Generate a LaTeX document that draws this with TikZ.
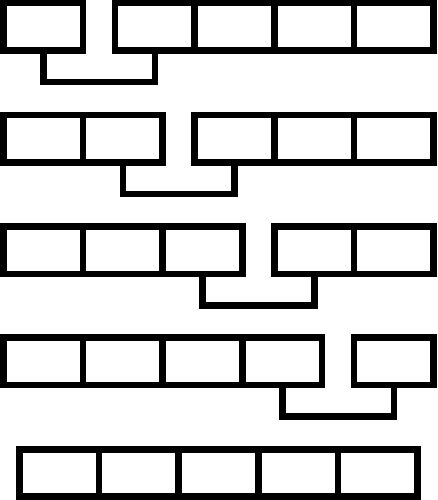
\documentclass[tikz,border=0pt]{standalone}
\begin{document}
\begin{tikzpicture}[x=1pt,y=1pt,
  cell/.style={draw=black, line width=6.7pt, minimum width=79.7pt, minimum height=47.4pt, inner sep=0pt, outer sep=0pt, anchor=north west},
  link/.style={draw=black, line width=6.7pt, line join=miter}]
\useasboundingbox (0,0) rectangle (437,500);
\foreach \r/\top in {1/3,2/115,3/226.7,4/337.7}{
  \foreach \k in {1,...,5}{
    \pgfmathsetmacro\xl{3.3+(\k-1)*79.7+(\k>\r ? 32 : 0)}
    \pgfmathsetmacro\yt{500-\top}
    \node[cell] (c-\r-\k) at (\xl,\yt) {};
  }
}
\foreach \k in {1,...,5}{
  \pgfmathsetmacro\xl{19.3+(\k-1)*79.7}
  \node[cell] (c-5-\k) at (\xl,50.7) {};
}
\foreach \r in {1,...,4}{
  \pgfmathtruncatemacro\n{\r+1}
  \draw[link] (c-\r-\r.south) -- ++(0,-31.5) -| (c-\r-\n.south);
}
\end{tikzpicture}
\end{document}
